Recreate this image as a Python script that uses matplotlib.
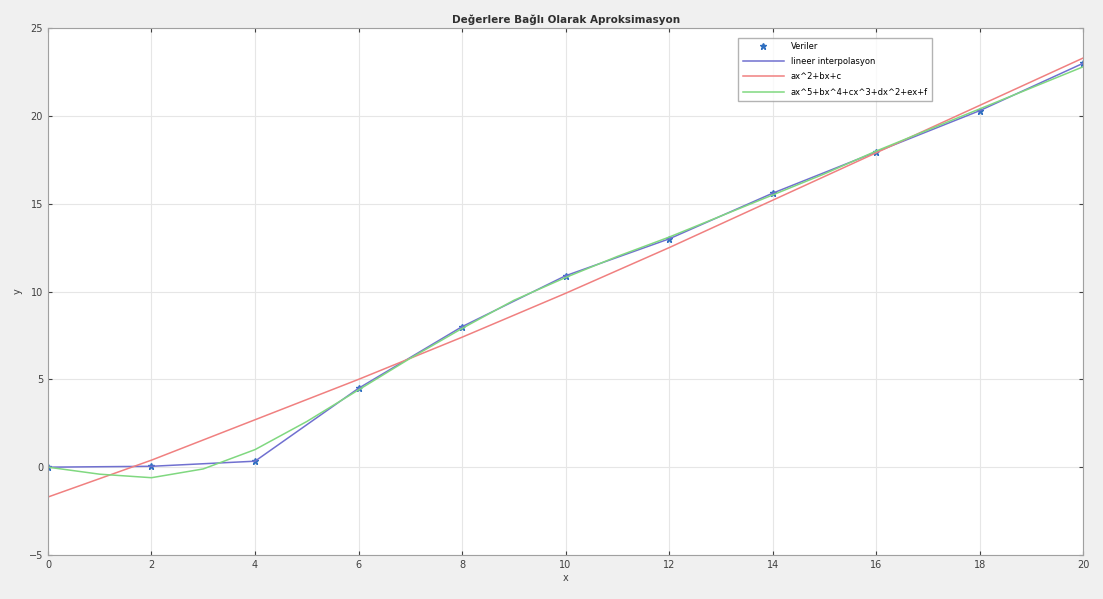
import numpy as np
import matplotlib
matplotlib.use("Agg")
import matplotlib.pyplot as plt

# data
x_data = [0, 2, 4, 6, 8, 10, 12, 14, 16, 18, 20]
y_data = [0.0, 0.05, 0.34, 4.49, 8.0, 10.9, 13.0, 15.6, 17.95, 20.3, 23.0]

# 2nd degree fit (red)
y_quad = [-1.7, 0.4, 2.7, 5.0, 7.4, 9.9, 12.5, 15.2, 17.9, 20.6, 23.3]

# 5th degree polynomial (green), sampled at every integer x
x_poly = list(range(0, 21))
y_poly = [0.0, -0.4, -0.6, -0.1, 1.0, 2.6, 4.4, 6.2, 7.9, 9.5, 10.8,
          12.0, 13.1, 14.3, 15.5, 16.7, 18.0, 19.2, 20.4, 21.6, 22.8]

labels = ["Veriler", "lineer interpolasyon", "ax^2+bx+c",
          "ax^5+bx^4+cx^3+dx^2+ex+f"]

fig = plt.figure(figsize=(11.03, 5.99), dpi=100, facecolor="#f0f0f0")
ax = fig.add_axes([0.0435, 0.0735, 0.9385, 0.8795])

ax.plot(x_data, y_data, "*", color="#2f6fc0", ms=5, label=labels[0])
ax.plot(x_data, y_data, "-", color="#7070d0", lw=1.1, label=labels[1])
ax.plot(x_data, y_quad, "-", color="#f08080", lw=1.1, label=labels[2])
ax.plot(x_poly, y_poly, "-", color="#80d880", lw=1.1, label=labels[3])

ax.set_xlim(0, 20)
ax.set_ylim(-5, 25)
ax.set_xticks(np.arange(0, 21, 2))
ax.set_yticks(np.arange(-5, 26, 5))
ax.grid(True, color="#e6e6e6", lw=0.8)
ax.set_axisbelow(True)
for s in ax.spines.values():
    s.set_color("#a0a0a0")
ax.tick_params(labelsize=7, colors="#404040", length=3, direction="in",
               top=True, right=True)

ax.set_title("Değerlere Bağlı Olarak Aproksimasyon", fontsize=7.5,
             fontweight="bold", color="#303030", pad=4)
ax.set_xlabel("x", fontsize=7, color="#404040", labelpad=2)
ax.set_ylabel("y", fontsize=7, color="#404040", labelpad=4)

leg = ax.legend(loc="upper left", bbox_to_anchor=(0.663, 0.99), fontsize=6,
                frameon=True, fancybox=False, edgecolor="#a0a0a0",
                handlelength=5, borderpad=0.5, labelspacing=0.75)

fig.savefig("out.png", dpi=100, facecolor=fig.get_facecolor())
